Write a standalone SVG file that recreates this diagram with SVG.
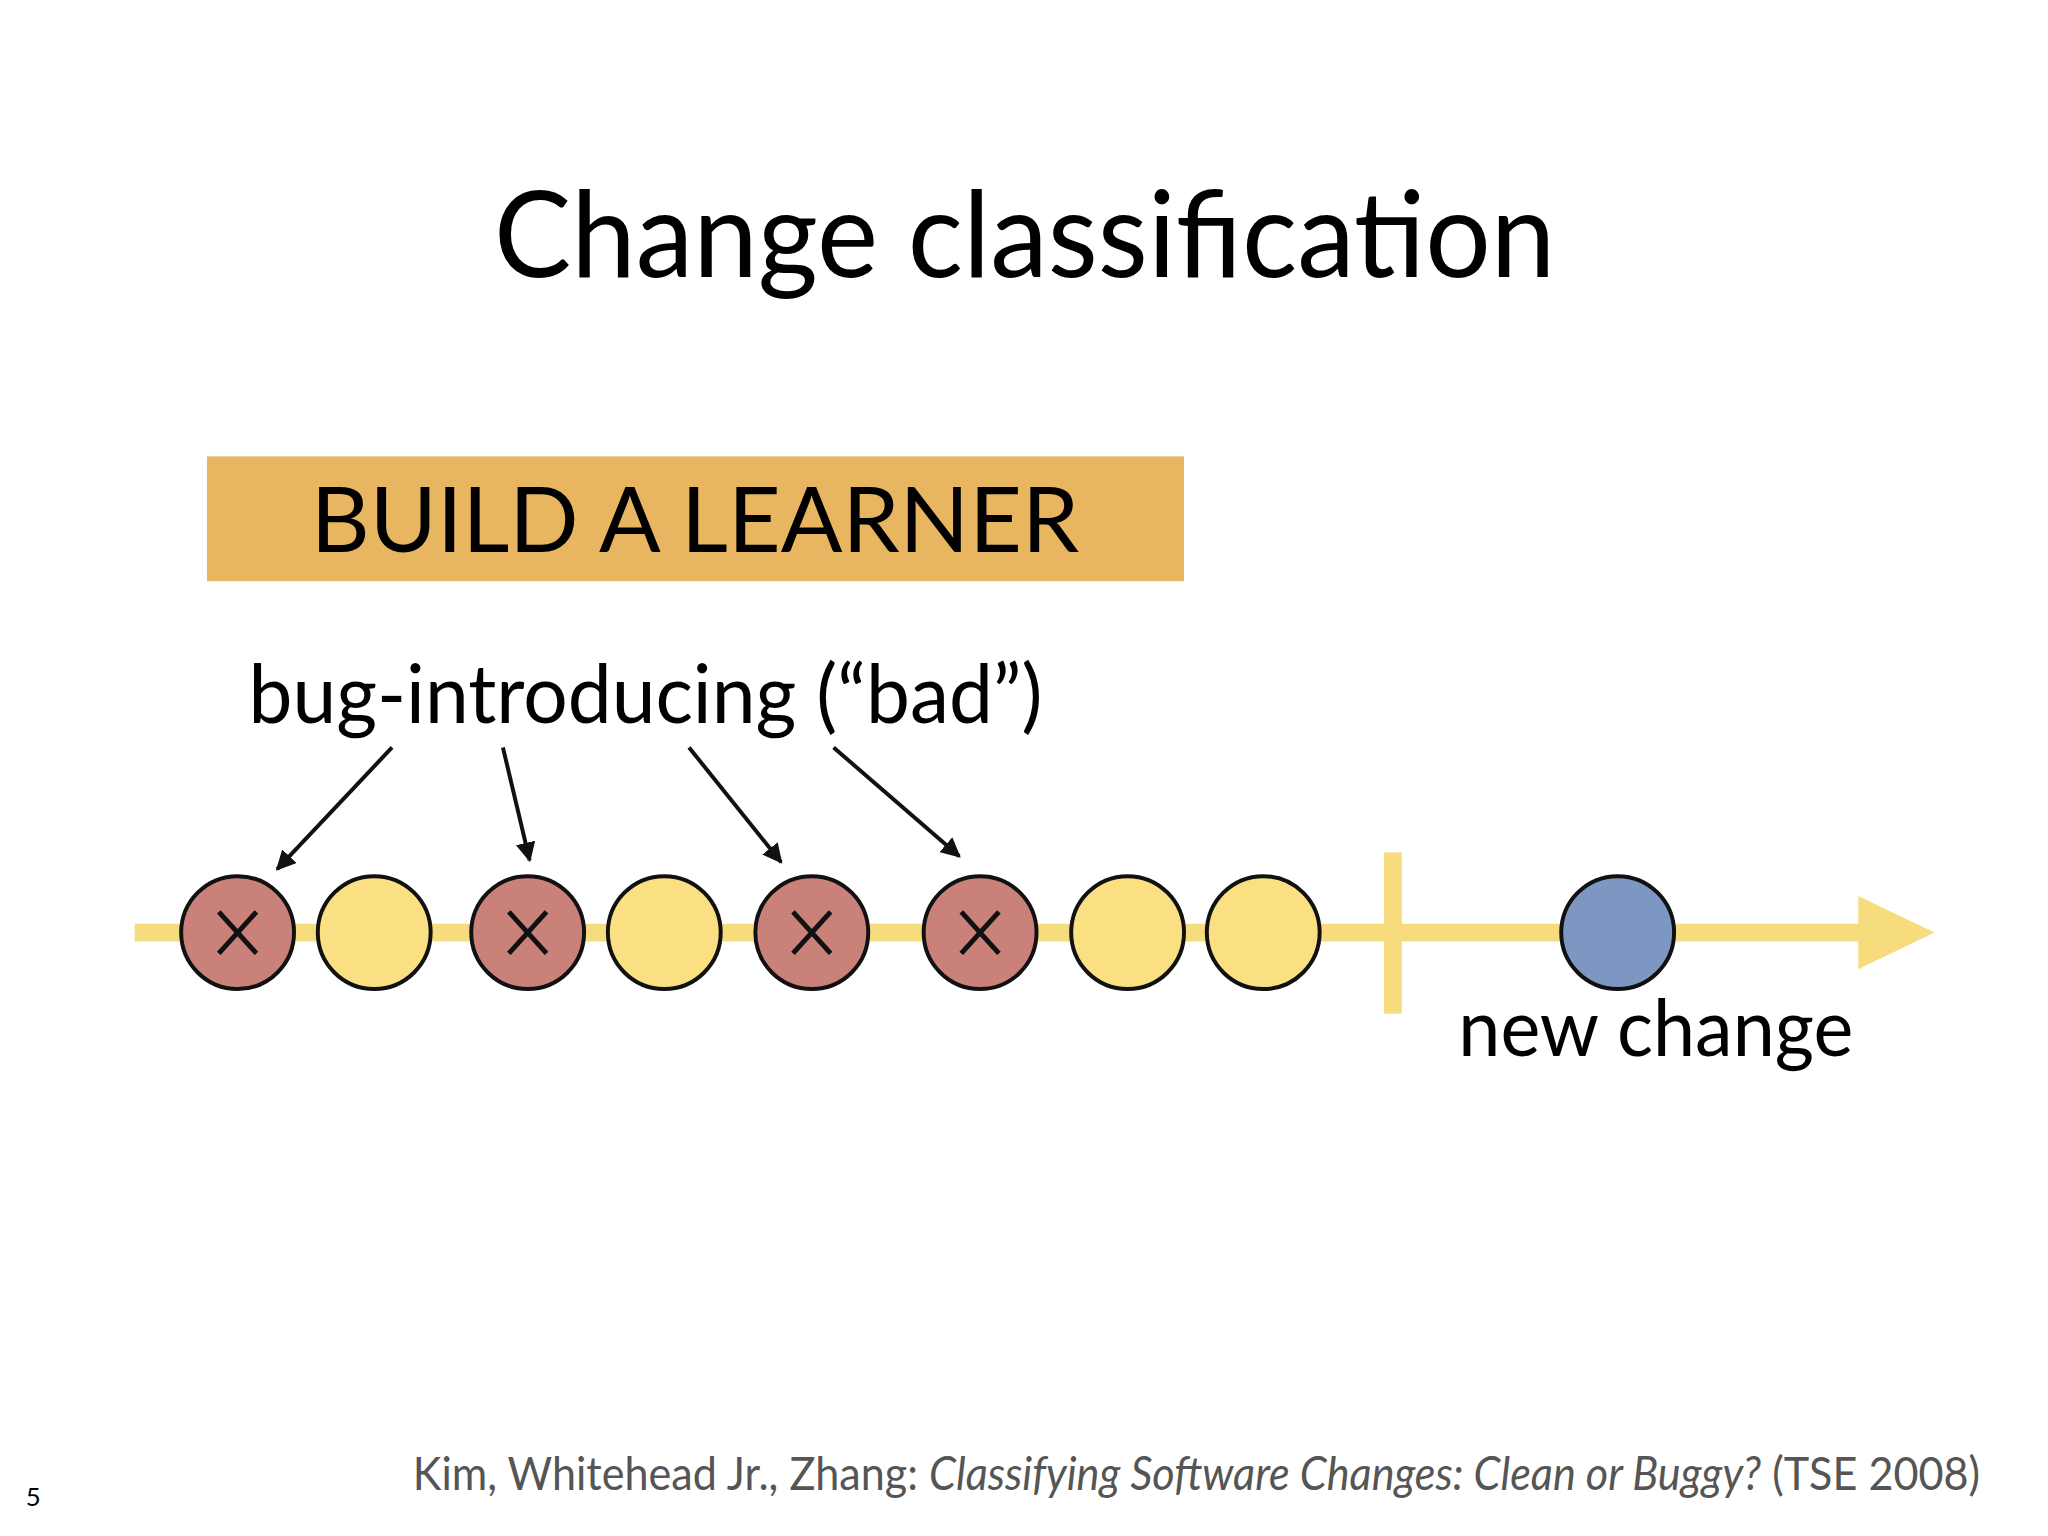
<svg xmlns="http://www.w3.org/2000/svg" width="2048" height="1536" viewBox="0 0 2048 1536">
<defs>
<style>
text{font-family:"Lato","Open Sans",sans-serif;fill:#000}
.bad{fill:#C9817A;stroke:#111;stroke-width:4}
.good{fill:#FADF83;stroke:#111;stroke-width:4}
.x{stroke:#111;stroke-width:5;fill:none}
.arr{stroke:#111;stroke-width:4;fill:none;marker-end:url(#ah)}
</style>
<marker id="ah" viewBox="0 0 10 10" refX="9" refY="5" markerWidth="5" markerHeight="5" orient="auto" markerUnits="strokeWidth"><path d="M0,0L10,5L0,10z" fill="#111"/></marker>
</defs>
<rect width="2048" height="1536" fill="#fff"/>
<g transform="scale(0.99)">
<text id="title" x="1035" y="280" font-size="122" text-anchor="middle" textLength="1072" lengthAdjust="spacingAndGlyphs">Change classification</text>
<g id="learner"><rect x="209" y="461" width="987" height="126" fill="#E8B660"/>
<text x="314" y="558" font-size="92" textLength="776" lengthAdjust="spacingAndGlyphs">BUILD A LEARNER</text></g>
<text id="buglabel" x="251" y="730" font-size="82" textLength="802" lengthAdjust="spacingAndGlyphs">bug-introducing (“bad”)</text>
<g id="timeline" fill="#F6DC7C">
<rect x="136" y="933" width="1745" height="18"/>
<polygon points="1877,905 1954,942 1877,979"/>
<rect x="1398" y="861" width="18" height="163"/>
</g>
<g id="connectors">
<line class="arr" x1="396" y1="755" x2="280" y2="878"/>
<line class="arr" x1="508" y1="755" x2="535" y2="869"/>
<line class="arr" x1="696" y1="755" x2="789" y2="871"/>
<line class="arr" x1="842" y1="755" x2="969" y2="865"/>
</g>
<g id="c1"><circle class="bad" cx="240" cy="942" r="57"/><path class="x" d="M221,921L259,963M259,921L221,963"/></g>
<g id="c2"><circle class="good" cx="378" cy="942" r="57"/></g>
<g id="c3"><circle class="bad" cx="533" cy="942" r="57"/><path class="x" d="M514,921L552,963M552,921L514,963"/></g>
<g id="c4"><circle class="good" cx="671" cy="942" r="57"/></g>
<g id="c5"><circle class="bad" cx="820" cy="942" r="57"/><path class="x" d="M801,921L839,963M839,921L801,963"/></g>
<g id="c6"><circle class="bad" cx="990" cy="942" r="57"/><path class="x" d="M971,921L1009,963M1009,921L971,963"/></g>
<g id="c7"><circle class="good" cx="1139" cy="942" r="57"/></g>
<g id="c8"><circle class="good" cx="1276" cy="942" r="57"/></g>
<g id="newc"><circle cx="1634" cy="942" r="57" fill="#7D97C2" stroke="#111" stroke-width="4"/></g>
<text id="newlabel" x="1473" y="1067" font-size="80" textLength="399" lengthAdjust="spacingAndGlyphs">new change</text>
<text id="cite" x="417" y="1505" font-size="46" style="fill:#555" textLength="1583" lengthAdjust="spacingAndGlyphs">Kim, Whitehead Jr., Zhang: <tspan font-style="italic" style="fill:#555">Classifying Software Changes: Clean or Buggy?</tspan> (TSE 2008)</text>
<text id="page" x="26" y="1521" font-size="26">5</text>
</g>
</svg>
